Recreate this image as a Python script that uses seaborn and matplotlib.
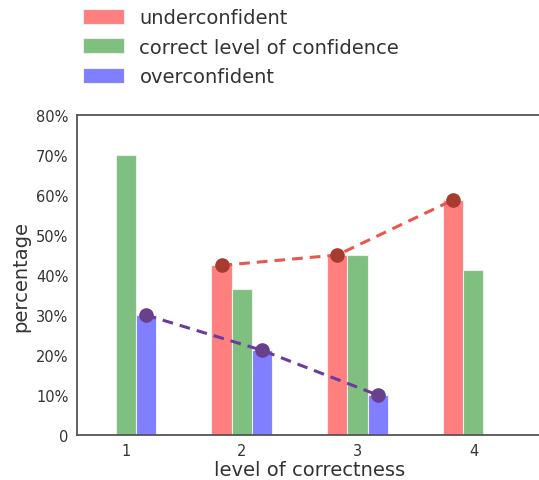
import matplotlib
matplotlib.use("Agg")
import matplotlib.pyplot as plt
import numpy as np
import pandas as pd
import seaborn as sns

# data
levels = ["1", "2", "3", "4"]
underconfident = [np.nan, 42.4, 45.0, 58.8]
correct = [70.0, 36.4, 45.0, 41.2]
overconfident = [30.0, 21.2, 10.0, np.nan]
series_names = ["underconfident", "correct level of confidence", "overconfident"]
ytick_values = [0, 10, 20, 30, 40, 50, 60, 70, 80]
ytick_labels = ["0", "10%", "20%", "30%", "40%", "50%", "60%", "70%", "80%"]

bar_colors = {"underconfident": "#ff7f7f",
              "correct level of confidence": "#7fbf7f",
              "overconfident": "#7f7fff"}

rows = []
for name, vals in zip(series_names, [underconfident, correct, overconfident]):
    for lvl, v in zip(levels, vals):
        rows.append({"level": lvl, "group": name, "value": v})
df = pd.DataFrame(rows).dropna()

sns.set_style("white")
plt.rcParams["font.family"] = ["DejaVu Sans"]
plt.rcParams["text.color"] = "#333333"
plt.rcParams["xtick.color"] = "#333333"
plt.rcParams["ytick.color"] = "#333333"
plt.rcParams["axes.labelcolor"] = "#333333"

fig = plt.figure(figsize=(5.39, 4.81), dpi=100)
ax = fig.add_axes([77 / 539, 45 / 481, 466 / 539, 320 / 481])

sns.barplot(data=df, x="level", y="value", hue="group", order=levels,
            hue_order=series_names, palette=bar_colors, saturation=1,
            width=0.52, errorbar=None, edgecolor="#eeeeee", linewidth=0.8,
            ax=ax)

# dashed trend lines through the tops of the red and blue bars
line_styles = {"underconfident": ("#e9574e", "#a63c2e"),
               "overconfident": ("#6c3b9c", "#6a3f8c")}
for name, cont in zip(series_names, ax.containers):
    if name not in line_styles:
        continue
    xs = [p.get_x() + p.get_width() / 2 for p in cont.patches]
    ys = [p.get_height() for p in cont.patches]
    lc, mc = line_styles[name]
    ax.plot(xs, ys, linestyle=(0, (3.5, 2.3)), color=lc, linewidth=2.2, zorder=3)
    ax.plot(xs, ys, linestyle="none", marker="o", markersize=9.5,
            color=mc, zorder=4)

ax.set_xlim(-0.42, 3.6)
ax.set_ylim(0, 80)
ax.set_yticks(ytick_values)
ax.set_yticklabels(ytick_labels)
ax.tick_params(axis="both", labelsize=10.5, length=0, pad=6)
ax.set_xlabel("level of correctness", fontsize=14, labelpad=1)
ax.set_ylabel("percentage", fontsize=14)
for s in ["left", "bottom", "top"]:
    ax.spines[s].set_color("#555555")
    ax.spines[s].set_linewidth(1.3)
ax.spines["right"].set_visible(False)

handles, labels = ax.get_legend_handles_labels()
ax.get_legend().remove()
fig.legend(handles, labels, loc="upper left",
           bbox_to_anchor=(83 / 539, 1 - 9 / 481), frameon=False,
           fontsize=14, borderpad=0, borderaxespad=0, handlelength=2.1,
           handleheight=0.8, handletextpad=0.8, labelspacing=0.54)

fig.savefig("out.png", dpi=100)
